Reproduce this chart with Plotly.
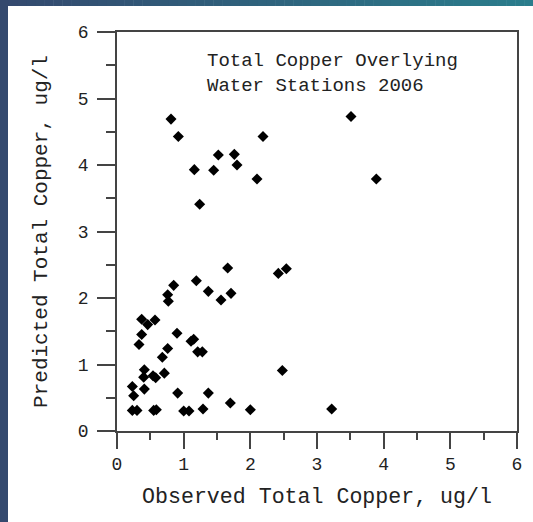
import plotly.graph_objects as go

# ---- data ----
observed = [
    0.81, 0.92, 1.16, 1.24, 1.45, 1.52, 1.76, 1.80, 2.10, 2.19, 3.51, 3.89,
    1.66, 2.42, 2.54, 1.19, 0.85, 0.76, 0.77, 1.37, 1.56, 1.71,
    0.37, 0.46, 0.57, 0.37, 0.33, 0.90, 1.11, 1.15, 0.76, 0.68, 1.21, 1.28,
    0.41, 0.40, 0.54, 0.58, 0.71, 0.23, 0.25, 0.41, 0.91, 1.37, 2.48, 1.70,
    2.00, 0.23, 0.30, 0.55, 0.59, 1.00, 1.08, 1.29, 3.22,
]
predicted = [
    4.69, 4.43, 3.93, 3.41, 3.92, 4.15, 4.16, 4.00, 3.79, 4.43, 4.73, 3.79,
    2.45, 2.37, 2.44, 2.26, 2.19, 2.05, 1.95, 2.10, 1.97, 2.07,
    1.68, 1.60, 1.67, 1.45, 1.30, 1.47, 1.35, 1.38, 1.24, 1.11, 1.19, 1.19,
    0.92, 0.81, 0.83, 0.80, 0.87, 0.67, 0.53, 0.63, 0.57, 0.57, 0.91, 0.42,
    0.32, 0.31, 0.31, 0.31, 0.32, 0.30, 0.30, 0.33, 0.33,
]
tick_vals = [0, 1, 2, 3, 4, 5, 6]
tick_text = ["0", "1", "2", "3", "4", "5", "6"]
x_title = "Observed Total Copper, ug/l"
y_title = "Predicted Total Copper, ug/l"
note_lines = ["Total Copper Overlying", "Water Stations 2006"]

# ---- layout geometry ----
W, H = 533, 522
ML, MR, MT, MB = 117, 16, 32, 91
FONT = "Liberation Mono, Courier New, monospace"


def px_to_paper_x(px):
    return (px - ML) / (W - ML - MR)


def px_to_paper_y(py):
    return (H - MB - py) / (H - MT - MB)


fig = go.Figure()
fig.add_trace(go.Scatter(
    x=observed, y=predicted, mode="markers",
    marker=dict(symbol="diamond", size=8.5, color="black",
                line=dict(width=0)),
    hoverinfo="x+y", showlegend=False,
))

axis_common = dict(
    range=[0, 6], tickvals=tick_vals, ticktext=tick_text,
    showgrid=False, zeroline=False, showline=True, mirror=True,
    linecolor="#444", linewidth=1.5, ticks="outside", tickcolor="#444",
    tickwidth=1.5, tickfont=dict(family=FONT, size=18, color="#222"),
    fixedrange=True, automargin=False,
)

fig.update_layout(
    width=W, height=H,
    margin=dict(l=ML, r=MR, t=MT, b=MB),
    paper_bgcolor="white", plot_bgcolor="white",
    xaxis=dict(**axis_common, ticklen=16,
               minor=dict(dtick=0.5, ticklen=7, ticks="outside",
                          tickcolor="#444", tickwidth=1.5),
               title=dict(text=x_title, font=dict(family=FONT, size=21.6, color="#222"),
                          standoff=14)),
    yaxis=dict(**axis_common, ticklen=18, ticklabelstandoff=5,
               minor=dict(dtick=0.5, ticklen=9, ticks="outside",
                          tickcolor="#444", tickwidth=1.5),
               title=dict(text=y_title, font=dict(family=FONT, size=21, color="#222"),
                          standoff=24)),
)

fig.add_annotation(
    x=px_to_paper_x(205), y=px_to_paper_y(73), xref="paper", yref="paper",
    xanchor="left", yanchor="middle", align="left", showarrow=False,
    text="<br>".join(note_lines),
    font=dict(family=FONT, size=19, color="#222"),
)

# decorative frame strips (slide background)
shapes = []
shapes.append(dict(type="rect", xref="paper", yref="paper",
                   x0=px_to_paper_x(0), x1=px_to_paper_x(8),
                   y0=px_to_paper_y(H), y1=px_to_paper_y(0),
                   fillcolor="#34496e", line=dict(width=0), layer="above"))
c0 = (52, 73, 110)
c1 = (42, 125, 140)
n = 60
for i in range(n):
    t = i / (n - 1)
    col = tuple(int(round(a + (b - a) * t)) for a, b in zip(c0, c1))
    shapes.append(dict(type="rect", xref="paper", yref="paper",
                       x0=px_to_paper_x(W * i / n), x1=px_to_paper_x(W * (i + 1) / n + 0.5),
                       y0=px_to_paper_y(6), y1=px_to_paper_y(0),
                       fillcolor="rgb(%d,%d,%d)" % col, line=dict(width=0),
                       layer="above"))
fig.update_layout(shapes=shapes)

fig.write_html(
    "out.html",
    config={"displayModeBar": False},
    post_script="document.body.style.margin='0';document.body.style.padding='0';"
                "document.body.style.overflow='hidden';",
)
